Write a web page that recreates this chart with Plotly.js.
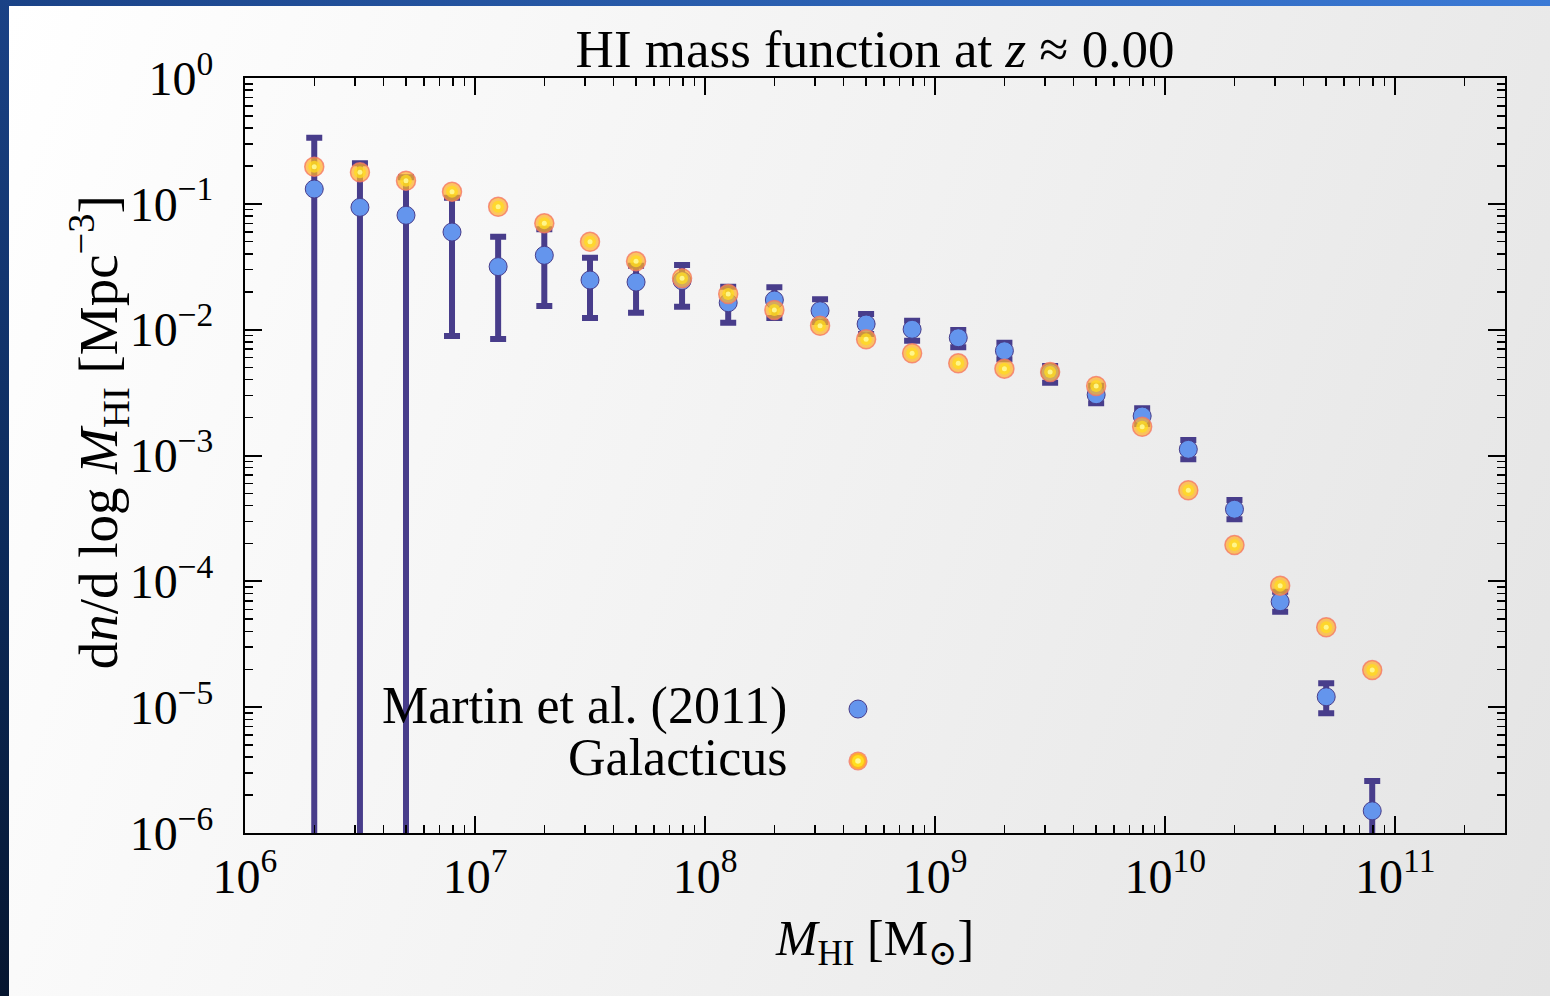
<!DOCTYPE html>
<html>
<head>
<meta charset="utf-8">
<script src="https://cdn.plot.ly/plotly-3.0.1.min.js"></script>
<style>
  html, body { margin:0; padding:0; }
  body { width:1550px; height:996px; position:relative; overflow:hidden;
         background: linear-gradient(to bottom, #1a4286 0%, #0c2a5a 55%, #061630 100%); }
  #topbar { position:absolute; left:0; top:0; width:1550px; height:6px;
            background: linear-gradient(to right, #1a4286 0%, #2a5fb0 50%, #3b7ad6 100%); }
  #plot { position:absolute; left:9px; top:6px; width:1541px; height:990px;
          background: linear-gradient(110deg, #ffffff 0%, #f3f3f3 45%, #e4e4e4 100%); }
</style>
</head>
<body>
<div id="topbar"></div>
<div id="plot"></div>
<script>
// HI mass bins (M_sun)
const massHI = [2.0e6, 3.16e6, 5.01e6, 7.94e6, 1.26e7, 2.0e7, 3.16e7, 5.01e7, 7.94e7,
  1.26e8, 2.0e8, 3.16e8, 5.01e8, 7.94e8, 1.26e9, 2.0e9, 3.16e9, 5.01e9, 7.94e9,
  1.26e10, 2.0e10, 3.16e10, 5.01e10, 7.94e10];

// Martin et al. (2011): value, upper bound, lower bound (Mpc^-3)
const martinPhi = [0.1312, 0.0938, 0.0811, 0.0597, 0.0317, 0.0390, 0.0248, 0.0239, 0.0245,
  0.01637, 0.0172, 0.01415, 0.01109, 0.01007, 0.00863, 0.00680, 0.00455, 0.00304, 0.00206,
  0.00112, 0.000374, 6.89e-5, 1.21e-5, 1.50e-6];
const martinHi = [0.335, 0.210, 0.1625, 0.1119, 0.0548, 0.0628, 0.0373, 0.0322, 0.0327,
  0.0219, 0.0217, 0.01743, 0.01332, 0.01178, 0.00993, 0.00787, 0.00514, 0.00358, 0.00237,
  0.00133, 0.000443, 8.27e-5, 1.55e-5, 2.59e-6];
const martinLo = [0, 0, 0, 0.00891, 0.00843, 0.01542, 0.01238, 0.01364, 0.0152,
  0.01136, 0.0124, 0.0115, 0.00924, 0.00817, 0.00724, 0.00581, 0.00379, 0.0026, 0.00178,
  0.000933, 0.000311, 5.74e-5, 8.93e-6, 0];

// Galacticus model
const galPhi = [0.197, 0.178, 0.1527, 0.1248, 0.0949, 0.0700, 0.0500, 0.0349, 0.0256,
  0.0192, 0.01433, 0.01075, 0.00838, 0.00649, 0.00540, 0.00490, 0.00461, 0.00357, 0.00169,
  0.000529, 0.000194, 9.23e-5, 4.31e-5, 1.97e-5];

// tick labels
const xTickVals = [1e6, 1e7, 1e8, 1e9, 1e10, 1e11];
const xTickText = ["10<sup>6</sup>", "10<sup>7</sup>", "10<sup>8</sup>", "10<sup>9</sup>", "10<sup>10</sup>", "10<sup>11</sup>"];
const yTickVals = [1e-6, 1e-5, 1e-4, 1e-3, 1e-2, 1e-1, 1];
const yTickText = ["10<sup>−6</sup>", "10<sup>−5</sup>", "10<sup>−4</sup>", "10<sup>−3</sup>", "10<sup>−2</sup>", "10<sup>−1</sup>", "10<sup>0</sup>"];

const legendNames = ["Martin et al. (2011)", "Galacticus"];
const yTitle = 'd<i>n</i>/d log <i>M</i><sub>HI</sub> [Mpc<sup>−3</sup>]';

const errPlus = martinPhi.map((v, i) => martinHi[i] - v);
const errMinus = martinPhi.map((v, i) => v - martinLo[i]);

const FONT = "'Liberation Serif', 'DejaVu Serif', serif";
const navy = '#483D8B';

const traces = [
  { x: massHI, y: martinPhi, type: 'scatter', mode: 'markers', name: legendNames[0], showlegend: false,
    marker: { size: 18, color: '#6495ED', line: { color: navy, width: 1 } },
    error_y: { type: 'data', symmetric: false, array: errPlus, arrayminus: errMinus,
               color: navy, thickness: 6, width: 8 } },
  { x: massHI, y: galPhi, type: 'scatter', mode: 'markers', name: legendNames[1], showlegend: false,
    marker: { size: 19, color: 'rgba(255,176,40,0.72)', line: { color: 'rgba(245,120,100,0.8)', width: 1.5 } } },
  { x: massHI, y: galPhi, type: 'scatter', mode: 'markers', showlegend: false, hoverinfo: 'skip',
    marker: { size: 12, color: 'rgba(255,222,30,0.75)' } },
  { x: massHI, y: galPhi, type: 'scatter', mode: 'markers', showlegend: false, hoverinfo: 'skip',
    marker: { size: 5, color: 'rgba(255,250,150,0.9)' } }
];

function axisBase() {
  return {
    showgrid: false, zeroline: false, showline: true, linecolor: 'black', linewidth: 2,
    mirror: 'allticks', ticks: 'inside', ticklen: 17, tickwidth: 2, tickcolor: 'black',
    tickfont: { family: FONT, size: 48, color: 'black' },
    minor: { ticks: 'inside', ticklen: 8, tickwidth: 1.5, tickcolor: 'black', dtick: 'D1', showgrid: false }
  };
}

const xaxis = Object.assign(axisBase(), {
  type: 'log', range: [6, 11.477], tickmode: 'array', tickvals: xTickVals, ticktext: xTickText,
  ticklabelstandoff: 0,
  title: { text: '<i>M</i><sub>HI</sub> [M<sub>⊙</sub>]', font: { family: FONT, size: 50, color: 'black' }, standoff: 18 }
});
const yaxis = Object.assign(axisBase(), {
  type: 'log', range: [-6, 0], tickmode: 'array', tickvals: yTickVals, ticktext: yTickText,
  ticklabelstandoff: 20,
  title: { text: '' }
});

// legend (text left of symbol, as in reference)
const legX = 0.4865, legTextX = 0.432, legY = [0.1642, 0.0954];
const annotations = legendNames.map((n, i) => ({
  xref: 'paper', yref: 'paper', x: legTextX, y: legY[i] + 0.004, xanchor: 'right', yanchor: 'middle',
  text: n, showarrow: false, font: { family: FONT, size: 52, color: 'black' }
}));
// y-axis title placed as in the reference (slightly above centre)
annotations.push({
  xref: 'paper', yref: 'paper', x: -0.1165, y: 0.531, xanchor: 'center', yanchor: 'middle',
  textangle: -90, text: yTitle, showarrow: false, font: { family: FONT, size: 55, color: 'black' }
});
function circ(cy, r, fill, lineColor, lw) {
  return { type: 'circle', xref: 'paper', yref: 'paper', xsizemode: 'pixel', ysizemode: 'pixel',
    xanchor: legX, yanchor: cy, x0: -r, x1: r, y0: -r, y1: r,
    fillcolor: fill, line: { color: lineColor || 'rgba(0,0,0,0)', width: lw || 0 } };
}
const shapes = [
  circ(legY[0], 9, '#6495ED', navy, 1),
  circ(legY[1], 9.5, 'rgba(245,130,105,0.9)'),
  circ(legY[1], 8, 'rgba(255,176,40,1)'),
  circ(legY[1], 6, 'rgba(255,222,30,1)'),
  circ(legY[1], 2.8, 'rgba(255,250,150,1)')
];

const layout = {
  width: 1541, height: 990,
  margin: { l: 236, r: 45, t: 72, b: 163 },
  paper_bgcolor: 'rgba(0,0,0,0)', plot_bgcolor: 'rgba(0,0,0,0)',
  title: { text: 'HI mass function at <i>z</i> ≈ 0.00', font: { family: FONT, size: 53, color: 'black' },
           xref: 'paper', x: 0.5, xanchor: 'center', yref: 'container', y: 0.957, yanchor: 'middle' },
  xaxis: xaxis, yaxis: yaxis,
  annotations: annotations, shapes: shapes,
  showlegend: false
};

Plotly.newPlot('plot', traces, layout, { displayModeBar: false, staticPlot: true });
</script>
</body>
</html>
